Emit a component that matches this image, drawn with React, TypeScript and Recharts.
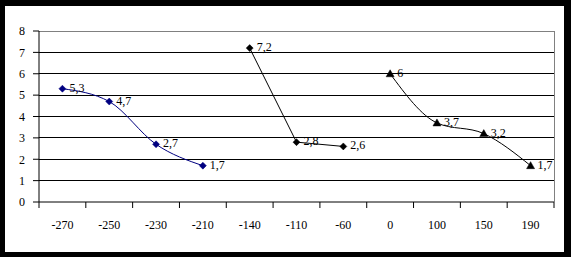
import React from 'react'
import { LineChart, Line, XAxis, YAxis, CartesianGrid, ReferenceLine, LabelList } from 'recharts'

// category labels along the bottom
const categories = ['-270', '-250', '-230', '-210', '-140', '-110', '-60', '0', '100', '150', '190']

// three separate runs, null where a series has no point
const blueRun = [5.3, 4.7, 2.7, 1.7, null, null, null, null, null, null, null]
const diamondRun = [null, null, null, null, 7.2, 2.8, 2.6, null, null, null, null]
const triangleRun = [null, null, null, null, null, null, null, 6, 3.7, 3.2, 1.7]

const yTicks = [0, 1, 2, 3, 4, 5, 6, 7, 8]
const gridValues = [1, 2, 3, 4, 5, 6, 7]

const FONT = 'Liberation Serif, Times New Roman, serif'

const chartData = categories.map((c, i) => ({
  x: i + 0.5,
  a: blueRun[i],
  b: diamondRun[i],
  c: triangleRun[i],
}))

const boundaryTicks = categories.map((_, i) => i).concat(categories.length)
const centerTicks = categories.map((_, i) => i + 0.5)

function Diamond(props: any) {
  const { cx, cy, value, fill } = props
  if (value == null || cx == null || cy == null) return null
  const r = 3.5
  return (
    <polygon
      points={`${cx},${cy - r} ${cx + r},${cy} ${cx},${cy + r} ${cx - r},${cy}`}
      fill={fill}
      stroke={fill}
      strokeWidth={0.5}
    />
  )
}

function Triangle(props: any) {
  const { cx, cy, value } = props
  if (value == null || cx == null || cy == null) return null
  const r = 4
  return (
    <polygon
      points={`${cx},${cy - r} ${cx + r},${cy + r - 1} ${cx - r},${cy + r - 1}`}
      fill="#000"
      stroke="#000"
      strokeWidth={0.5}
    />
  )
}

function ValueLabel(props: any) {
  const { x, y, value } = props
  if (value == null || x == null || y == null) return null
  return (
    <text x={x + 7} y={y + 3} fontSize={12} fontFamily={FONT} fill="#000">
      {String(value).replace('.', ',')}
    </text>
  )
}

export default function App() {
  return (
    <div style={{ position: 'absolute', left: 0, top: 0, width: 571, height: 257, background: '#fff' }}>
      <LineChart
        width={571}
        height={257}
        data={chartData}
        margin={{ top: 31, right: 17, bottom: 17, left: 0 }}
      >
        <CartesianGrid
          xAxisId="a"
          vertical={false}
          stroke="#000"
          horizontalValues={gridValues}
          shapeRendering="crispEdges"
        />
        <XAxis
          xAxisId="b"
          dataKey="x"
          type="number"
          domain={[0, categories.length]}
          ticks={centerTicks}
          interval={0}
          tickFormatter={(v: number) => categories[Math.floor(v)]}
          tickSize={0}
          tickMargin={0}
          height={20}
          axisLine={false}
          tickLine={false}
          tick={{ fontSize: 12, fontFamily: FONT, fill: '#000' }}
        />
        <XAxis
          xAxisId="a"
          dataKey="x"
          type="number"
          domain={[0, categories.length]}
          ticks={boundaryTicks}
          interval={0}
          tickFormatter={() => ''}
          tickSize={6}
          height={18}
          axisLine={{ stroke: '#000' }}
          tickLine={{ stroke: '#000' }}
        />
        <YAxis
          domain={[0, 8]}
          ticks={yTicks}
          interval={0}
          width={39}
          tickSize={6}
          tickMargin={8}
          axisLine={{ stroke: '#000' }}
          tickLine={{ stroke: '#000' }}
          tick={{ fontSize: 12, fontFamily: FONT, fill: '#000' }}
        />
        <ReferenceLine xAxisId="a" y={8} stroke="#808080" shapeRendering="crispEdges" />
        <ReferenceLine xAxisId="a" x={categories.length} stroke="#808080" shapeRendering="crispEdges" />
        <Line
          xAxisId="a"
          dataKey="a"
          type="monotone"
          stroke="#000080"
          strokeWidth={1}
          dot={<Diamond fill="#000080" />}
          isAnimationActive={false}
        >
          <LabelList dataKey="a" content={<ValueLabel />} />
        </Line>
        <Line
          xAxisId="a"
          dataKey="b"
          type="linear"
          stroke="#000"
          strokeWidth={1}
          dot={<Diamond fill="#000" />}
          isAnimationActive={false}
        >
          <LabelList dataKey="b" content={<ValueLabel />} />
        </Line>
        <Line
          xAxisId="a"
          dataKey="c"
          type="monotone"
          stroke="#000"
          strokeWidth={1}
          dot={<Triangle />}
          isAnimationActive={false}
        >
          <LabelList dataKey="c" content={<ValueLabel />} />
        </Line>
      </LineChart>
      <div
        style={{
          position: 'absolute',
          left: 0,
          top: 0,
          width: 571,
          height: 257,
          boxSizing: 'border-box',
          borderStyle: 'solid',
          borderColor: '#000',
          borderWidth: '6px 7px 5px 5px',
          pointerEvents: 'none',
        }}
      />
    </div>
  )
}
